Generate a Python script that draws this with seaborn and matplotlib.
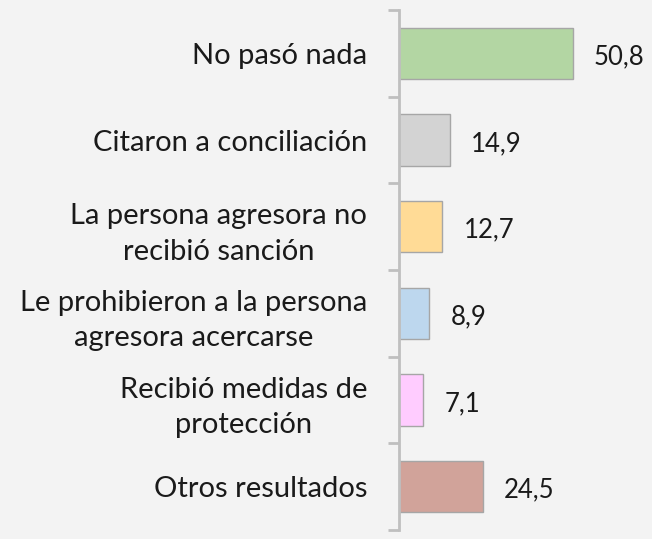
import numpy as np
import pandas as pd
import seaborn as sns
import matplotlib.pyplot as plt
from matplotlib.ticker import FixedLocator

categories = ["No pasó nada", "Citaron a conciliación",
              "La persona agresora no\nrecibió sanción",
              "Le prohibieron a la persona\nagresora acercarse",
              "Recibió medidas de\nprotección", "Otros resultados"]
values = [50.8, 14.9, 12.7, 8.9, 7.1, 24.5]
colors = ["#B3D6A3", "#D3D3D3", "#FFDB96", "#BDD7EE", "#FFCCFF", "#D1A39A"]

df = pd.DataFrame({"cat": categories, "val": values})

sns.set_style("white")
plt.rcParams["font.family"] = ["Lato", "DejaVu Sans"]

fig = plt.figure(figsize=(6.52, 5.39), dpi=100, facecolor="#F3F3F3")
ax = fig.add_axes([0.612, 0.0167, 0.388, 0.9647])
ax.set_facecolor("#F3F3F3")

sns.barplot(data=df, y="cat", x="val", hue="cat", palette=colors, legend=False,
            orient="h", width=0.59, edgecolor="#A6A6A6", linewidth=1,
            saturation=1, ax=ax)

ax.set_xlim(0, 74)
ax.set_ylim(len(categories) - 0.5, -0.5)
ax.set_xlabel("")
ax.set_ylabel("")
ax.set_xticks([])

for i, v in enumerate(values):
    ax.text(v + 6.2, i + 0.04, f"{v:.1f}".replace(".", ","), va="center", ha="left",
            fontsize=18.5, color="#1A1A1A")

ax.set_yticks(range(len(categories)))
ax.set_yticklabels(categories, fontsize=21, color="#1A1A1A",
                   multialignment="center", linespacing=1.45)
ax.tick_params(axis="y", which="major", left=False, length=0, pad=23)
ax.yaxis.set_minor_locator(FixedLocator(np.arange(-0.5, len(categories), 1)))
ax.tick_params(axis="y", which="minor", left=True, length=8, width=2,
               color="#BFBFBF")

for s in ["top", "right", "bottom"]:
    ax.spines[s].set_visible(False)
ax.spines["left"].set_color("#BFBFBF")
ax.spines["left"].set_linewidth(2)

fig.savefig("out.png", dpi=100, facecolor=fig.get_facecolor())
